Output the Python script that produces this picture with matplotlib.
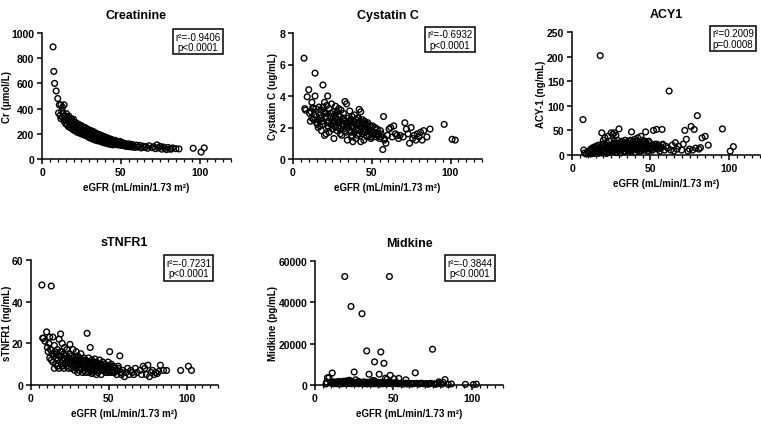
import numpy as np
import matplotlib
matplotlib.use('Agg')
import matplotlib.pyplot as plt
from matplotlib.ticker import MultipleLocator

plt.rcParams['font.family'] = ['Liberation Sans', 'DejaVu Sans']

# shared eGFR values (mL/min/1.73 m2), one per patient
egfr = [7, 7.5, 8, 9, 10, 10.5, 11, 11.5, 12, 12, 12.5, 13, 13, 13.5, 14, 14, 14.5, 15, 15, 15.5,
        16, 16, 16.5, 17, 17, 17.5, 18, 18, 18.5, 19, 19, 19.5, 20, 20, 20.5, 21, 21, 21.5, 22, 22, 22.5, 23, 23, 23.5, 24, 24, 24.5, 25, 25,
        25.5, 26, 26, 26.5, 27, 27, 27.5, 28, 28, 28.5, 29, 29, 29.5, 30, 30, 30.5, 31, 31, 31.5, 32, 32, 32.5, 33, 33, 33.5, 34, 34, 34.5, 35, 35,
        35.5, 36, 36, 36.5, 37, 37, 37.5, 38, 38, 38.5, 39, 39, 39.5, 40, 40, 40.5, 41, 41, 41.5, 42, 42, 42.5, 43, 43, 43.5, 44, 44, 44.5, 45, 45,
        45.5, 46, 46.5, 47, 47.5, 48, 48.5, 49, 49.5, 50, 50.5, 51, 51.5, 52, 53, 53.5, 54, 55, 55.5, 56, 57, 57.5, 58, 59, 60,
        61, 62, 63, 64, 65, 66, 67, 68, 70, 71, 72, 73, 74, 75, 76, 77, 78, 79, 80, 81, 82, 83, 85, 87,
        96, 101, 103,
        18, 20, 22, 24, 26, 28, 30, 31, 32, 33, 34, 35, 36, 37, 38, 39, 40, 41, 42, 43, 44, 45, 46, 47, 48, 49, 50, 51, 52, 54, 56, 58,
        19, 23, 27, 29, 37.5, 41.5, 47, 53]

creatinine = [890, 695, 600, 540, 480, 365, 430, 345, 430, 320, 380, 410, 330, 360, 430, 300, 340, 310, 280, 360,
              330, 270, 300, 340, 255, 310, 290, 250, 320, 280, 240, 300, 315, 230, 270, 290, 225, 260, 285, 215, 255, 275, 210, 245, 270, 205, 240, 265, 200,
              240, 255, 195, 225, 250, 190, 220, 245, 185, 215, 235, 180, 210, 230, 170, 205, 225, 165, 200, 220, 160, 190, 215, 155, 185, 205, 150, 180, 200, 145,
              175, 195, 145, 170, 190, 140, 165, 185, 135, 160, 180, 130, 155, 175, 128, 150, 170, 125, 145, 165, 120, 140, 160, 118, 138, 155, 115, 135, 150, 112,
              140, 125, 148, 120, 138, 112, 132, 118, 140, 108, 130, 112, 128, 105, 122, 100, 118, 98, 120, 105, 95, 115, 100, 92, 110,
              95, 108, 88, 102, 92, 98, 85, 105, 90, 98, 82, 112, 88, 100, 78, 95, 85, 75, 92, 80, 78, 88, 82, 80,
              85, 55, 88,
              280, 255, 245, 225, 215, 200, 205, 185, 195, 175, 185, 168, 175, 158, 165, 150, 158, 142, 150, 135, 145, 128, 135, 125, 130, 118, 125, 115, 120, 110, 108, 102,
              275, 230, 210, 190, 170, 148, 132, 112]

cystatin = [6.4, 3.2, 3.1, 3.95, 4.4, 2.9, 2.4, 3.0, 3.6, 2.6, 3.25, 3.2, 2.5, 2.8, 5.45, 4.0, 3.2, 2.3, 2.7, 2.2,
            2.5, 2.0, 3.3, 2.8, 2.1, 2.6, 1.8, 3.1, 2.4, 4.7, 2.2, 3.0, 3.6, 1.5, 2.7, 2.9, 1.6, 3.4, 4.0, 2.3, 2.0, 3.2, 1.7, 2.6, 2.9, 2.2, 3.5, 2.5, 1.9,
            3.0, 2.4, 1.3, 2.8, 3.35, 2.1, 2.6, 3.0, 1.8, 2.3, 3.2, 2.0, 2.7, 2.4, 1.6, 3.1, 2.2, 1.5, 2.5, 2.9, 1.9, 2.1, 3.65, 2.4, 1.7, 3.5, 2.2, 1.2, 2.6, 2.0,
            2.3, 3.05, 1.8, 2.5, 2.1, 1.4, 2.7, 2.0, 1.1, 2.4, 2.8, 1.7, 2.2, 2.5, 1.3, 1.9, 2.6, 1.5, 2.2, 3.15, 1.8, 2.4, 3.0, 1.1, 2.0, 2.5, 1.6, 2.3, 1.2, 1.9,
            2.4, 1.7, 2.1, 1.4, 2.3, 1.9, 1.5, 2.0, 1.3, 1.8, 2.1, 1.5, 1.7, 2.0, 1.4, 1.9, 1.6, 1.3, 1.8, 1.4, 0.6, 2.7, 1.2, 1.0, 1.5,
            1.9, 2.0, 1.4, 2.1, 1.6, 1.5, 1.3, 1.5, 1.4, 2.3, 1.9, 1.6, 1.0, 2.0, 1.3, 1.5, 1.2, 1.6, 1.4, 1.7, 1.2, 1.8, 1.4, 1.9,
            2.2, 1.25, 1.2,
            2.6, 2.9, 2.1, 2.7, 2.3, 2.5, 1.9, 2.2, 2.6, 1.8, 2.3, 2.0, 2.4, 1.7, 2.1, 2.3, 1.9, 2.2, 1.6, 2.0, 2.2, 1.7, 1.9, 1.5, 1.8, 2.1, 1.4, 1.7, 1.9, 1.5, 1.6, 1.3,
            3.3, 2.4, 2.0, 2.8, 1.5, 2.6, 2.2, 1.6]

acy1 = [72, 10, 4, 2, 6, 3, 8, 5, 12, 2, 9, 14, 4, 7, 16, 3, 11, 15, 6, 18,
        8, 14, 3, 12, 20, 6, 202, 10, 15, 45, 4, 22, 30, 9, 18, 35, 6, 14, 25, 3, 19, 12, 38, 7, 28, 16, 5, 45, 11,
        20, 42, 8, 15, 45, 24, 10, 40, 18, 5, 30, 14, 22, 53, 9, 25, 16, 4, 20, 28, 12, 18, 8, 24, 15, 30, 6, 20, 12, 25,
        10, 28, 18, 6, 22, 14, 30, 47, 8, 20, 26, 12, 18, 32, 5, 22, 15, 28, 10, 20, 35, 14, 25, 8, 18, 38, 12, 22, 30, 15,
        20, 10, 28, 47, 14, 22, 8, 18, 25, 12, 20, 15, 10, 50, 22, 18, 52, 12, 20, 8, 15, 52, 22, 10, 18,
        14, 130, 10, 20, 8, 25, 12, 18, 10, 22, 50, 32, 8, 12, 58, 10, 52, 14, 80, 12, 15, 35, 38, 20,
        53, 8, 17,
        12, 8, 18, 14, 22, 10, 16, 25, 12, 20, 8, 18, 24, 14, 10, 20, 16, 12, 22, 18, 9, 26, 14, 20, 12, 28, 15, 10, 18, 22, 14, 20,
        5, 15, 28, 12, 20, 16, 24, 14]

stnfr1 = [48, 22.5, 22.5, 21, 25.5, 18, 16, 20, 23, 13, 17, 47.5, 12, 15, 23, 11, 14, 19, 8, 16,
          15, 10, 13, 17, 9, 12, 22, 8, 14, 24.5, 11, 16, 20, 9, 13, 15, 8, 18, 12, 10, 14, 17, 9, 12, 13, 8, 15, 19.5, 10,
          12, 14, 8, 11, 17, 9, 13, 12, 7, 10, 16, 8, 12, 14, 6, 11, 13, 7, 10, 15, 8, 11, 12, 6, 10, 13, 7, 9, 12, 6,
          10, 24.8, 8, 11, 13, 6, 9, 18, 7, 10, 12, 5.5, 9, 11, 6, 10, 12.5, 7, 9, 11, 5, 8, 10, 6, 9, 12, 7, 8, 10, 5,
          9, 11, 7, 8, 10, 6, 9, 7, 11, 6, 16, 8, 10, 7, 9, 6, 8, 5, 7, 9, 14, 6, 5, 7, 4,
          6, 8, 5, 7, 6, 5, 8, 6, 7, 5, 9, 8, 5, 9.5, 4, 6, 7, 5, 6, 5.5, 6.5, 9.5, 7, 7,
          7, 9, 7,
          14, 12, 10, 13, 11, 9, 12, 10, 8, 11, 9, 10, 8, 11, 9, 7, 10, 8, 9, 7, 10, 8, 7, 9, 6, 8, 7, 9, 6, 7, 8, 6,
          16, 11, 12, 9, 10, 8, 7, 6]

midkine = [500, 1500, 3500, 3600, 1200, 800, 5800, 1000, 1500, 600, 900, 1300, 700, 1100, 800, 1400, 600, 1000, 1700, 500,
           1200, 800, 1500, 600, 1000, 1300, 700, 1800, 1100, 52500, 900, 1400, 2000, 600, 1200, 800, 1600, 1000, 700, 1300, 900, 38000, 1100, 600, 1500, 800, 1200, 6300, 900,
           1000, 700, 2500, 1300, 800, 1100, 1600, 600, 900, 1400, 700, 1200, 800, 34500, 1000, 600, 1500, 900, 1200, 700, 1100, 800, 16500, 1300, 600, 1000, 900, 5200, 700, 1400,
           800, 1200, 600, 1000, 700, 2200, 900, 11200, 600, 1100, 800, 1300, 700, 1000, 600, 1200, 900, 5200, 700, 1000, 16000, 800, 1100, 600, 900, 10500, 700, 1200, 3300, 800,
           1000, 600, 900, 1200, 52500, 4700, 800, 1000, 600, 900, 3000, 700, 800, 1100, 600, 3200, 700, 900, 500, 800, 600, 700, 2500, 500, 800,
           600, 500, 700, 5900, 800, 500, 600, 900, 500, 700, 400, 600, 800, 17300, 500, 400, 600, 1500, 900, 400, 1200, 2600, 300, 500,
           300, 200, 400,
           1400, 900, 2300, 1100, 700, 1600, 1000, 800, 1300, 600, 1100, 900, 700, 1200, 2000, 800, 1000, 600, 1300, 900, 700, 1100, 2800, 800, 1000, 600, 900, 700, 1100, 800, 600, 900,
           1000, 1700, 800, 1200, 900, 600, 1400, 700]

titles = ['Creatinine', 'Cystatin C', 'ACY1', 'sTNFR1', 'Midkine']
ylabels = ['Cr (μmol/L)', 'Cystatin C (ug/mL)', 'ACY-1 (ng/mL)', 'sTNFR1 (ng/mL)', 'Midkine (pg/mL)']
ymax = [1000, 8, 250, 60, 60000]
ystep = [200, 2, 50, 20, 20000]
stats = ['r²=-0.9406\np<0.0001', 'r²=-0.6932\np<0.0001', 'r²=0.2009\np=0.0008', 'r²=-0.7231\np<0.0001', 'r²=-0.3844\np<0.0001']
series = [creatinine, cystatin, acy1, stnfr1, midkine]

W, H = 761, 431
# axes boxes in pixels: left, top, right, bottom
boxes = [(42, 34, 231, 160), (293, 34, 482, 160), (572, 33, 760, 156), (31, 261, 218, 386), (315, 262, 503, 386)]
statpos = [(0.826, 0.93), (0.83, 0.948), (0.856, 0.947), (0.842, 0.936), (0.824, 0.944)]
ylabx = [7, 273, 541, 7, 273]

fig = plt.figure(figsize=(W/100, H/100), dpi=100)
x = np.array(egfr)
for i in range(5):
    l, t, r, b = boxes[i]
    ax = fig.add_axes([l/W, 1-b/H, (r-l)/W, (b-t)/H])
    y = np.array(series[i]); assert len(y) == len(x)
    ax.scatter(x, y, s=17, facecolors='none', edgecolors='black', linewidths=1.0, clip_on=False, zorder=3)
    ax.set_xlim(0, 120); ax.set_ylim(0, ymax[i])
    ax.xaxis.set_major_locator(MultipleLocator(50)); ax.xaxis.set_minor_locator(MultipleLocator(5))
    ax.yaxis.set_major_locator(MultipleLocator(ystep[i]))
    for s in ['top', 'right']: ax.spines[s].set_visible(False)
    for s in ['left', 'bottom']: ax.spines[s].set_linewidth(1.1)
    ax.tick_params(which='major', length=3.5, width=1.1, labelsize=7.5, pad=2)
    ax.tick_params(which='minor', length=2, width=0.9)
    for lab in ax.get_xticklabels() + ax.get_yticklabels(): lab.set_fontweight('bold')
    ax.set_title(titles[i], fontsize=9, fontweight='bold', pad=11)
    ax.set_xlabel('eGFR (mL/min/1.73 m²)', fontsize=7, fontweight='bold', labelpad=4)
    ax.set_ylabel(ylabels[i], fontsize=7, fontweight='bold', va='center')
    ax.yaxis.set_label_coords((ylabx[i]-l)/(r-l), 0.5)
    ax.text(statpos[i][0], statpos[i][1], stats[i], transform=ax.transAxes, ha='center', va='center',
            fontsize=7, linespacing=1.05, zorder=5, clip_on=False,
            bbox=dict(boxstyle='square,pad=0.25', facecolor='white', edgecolor='black', linewidth=1.1))

fig.savefig('out.png', dpi=100)
